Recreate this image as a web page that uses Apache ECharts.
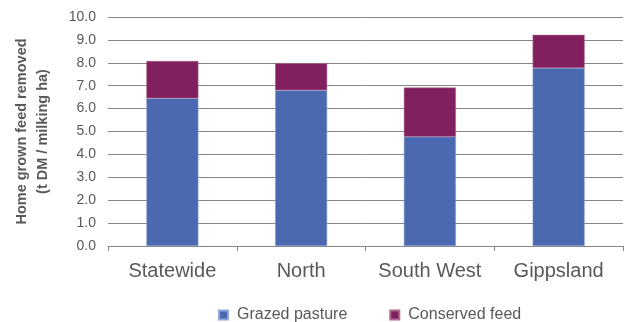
<!DOCTYPE html>
<html>
<head>
<meta charset="UTF-8">
<title>Home grown feed removed</title>
<script src="https://cdn.jsdelivr.net/npm/echarts@6/dist/echarts.min.js"></script>
<style>
  html, body { margin: 0; padding: 0; background: #fff; }
  #main { width: 644px; height: 322px; }
</style>
</head>
<body>
<div id="main"></div>
<script>
var regions = ['Statewide', 'North', 'South West', 'Gippsland'];
var grazed = [6.45, 6.8, 4.77, 7.77];
var conserved = [1.63, 1.18, 2.15, 1.45];
var seriesNames = ['Grazed pasture', 'Conserved feed'];

var chart = echarts.init(document.getElementById('main'));
var font = 'Liberation Sans, Arial, sans-serif';

var option = {
  animation: false,
  color: ['#4A69B0', '#80205E'],
  textStyle: { fontFamily: font },
  grid: { left: 108, right: 21, top: 17, bottom: 76 },
  legend: {
    top: 307,
    left: 218,
    padding: 0,
    itemWidth: 9,
    itemHeight: 9,
    itemGap: 42,
    icon: 'rect',
    textStyle: { fontSize: 16, color: '#595959', fontFamily: font, padding: [0, 0, 0, 4] },
    data: seriesNames
  },
  xAxis: {
    type: 'category',
    data: regions,
    axisLine: { lineStyle: { color: '#868686', width: 1 } },
    axisTick: { show: true, length: 5, lineStyle: { color: '#868686' } },
    axisLabel: { interval: 0, fontSize: 20, color: '#595959', margin: 15, fontFamily: font }
  },
  yAxis: {
    type: 'value',
    min: 0,
    max: 10,
    interval: 1,
    name: 'Home grown feed removed\n(t DM / milking ha)',
    nameLocation: 'middle',
    nameRotate: 90,
    nameGap: 55,
    nameTextStyle: { fontSize: 14.5, fontWeight: 'bold', color: '#595959', lineHeight: 21, fontFamily: font },
    axisLine: { show: false },
    axisTick: { show: false },
    splitLine: { lineStyle: { color: '#868686', width: 1 } },
    axisLabel: {
      fontSize: 14, color: '#595959', margin: 12, fontFamily: font,
      formatter: function (v) { return v.toFixed(1); }
    }
  },
  series: [
    {
      name: seriesNames[0],
      type: 'bar',
      stack: 'feed',
      barWidth: 52,
      data: grazed,
      itemStyle: { borderColor: '#8FA6D8', borderWidth: 0.5 }
    },
    {
      name: seriesNames[1],
      type: 'bar',
      stack: 'feed',
      barWidth: 52,
      data: conserved,
      itemStyle: { borderColor: '#B0668F', borderWidth: 0.5 }
    }
  ]
};

chart.setOption(option);
</script>
</body>
</html>
